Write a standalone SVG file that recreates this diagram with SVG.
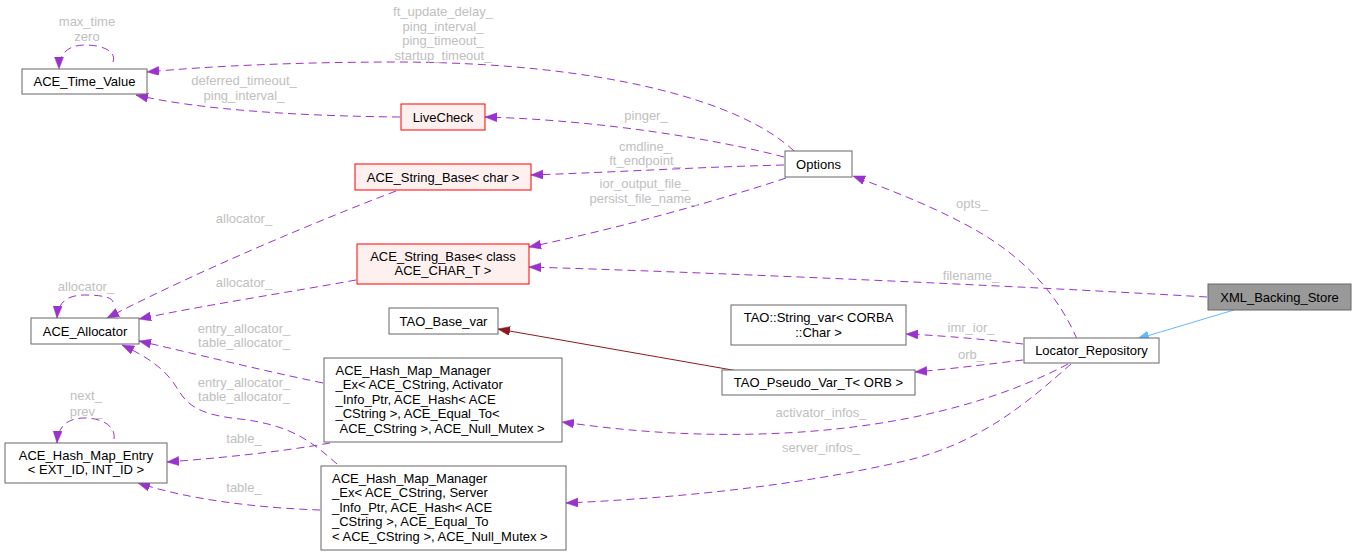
<svg xmlns="http://www.w3.org/2000/svg" width="1355" height="555" viewBox="0 0 1355 555">
<style>
text{font-family:"Liberation Sans",Arial,sans-serif;font-size:13px}
.n rect{fill:#ffffff;stroke:#666666;stroke-width:1}
.n.r rect{fill:#fff0f0;stroke:#ff0000}
.n.root rect{fill:#999999;stroke:#666666}
.n text{fill:#000000}
.c{text-anchor:middle}
.u{fill:none;stroke:#9a32cd;stroke-width:1;stroke-dasharray:8,5;marker-end:url(#ap)}
.lbl{fill:#c0c0c0;text-anchor:middle}
</style>
<defs>
<marker id="ap" markerUnits="userSpaceOnUse" markerWidth="13" markerHeight="10" refX="12" refY="4.5" orient="auto"><path d="M0,0 L12,4.5 L0,9 z" fill="#9a32cd" stroke="#9a32cd" stroke-width="0.5"/></marker>
<marker id="ab" markerUnits="userSpaceOnUse" markerWidth="13" markerHeight="10" refX="12" refY="4.5" orient="auto"><path d="M0,0 L12,4.5 L0,9 z" fill="#63b8ff" stroke="#63b8ff" stroke-width="0.5"/></marker>
<marker id="af" markerUnits="userSpaceOnUse" markerWidth="13" markerHeight="10" refX="12" refY="4.5" orient="auto"><path d="M0,0 L12,4.5 L0,9 z" fill="#8b1a1a" stroke="#8b1a1a" stroke-width="0.5"/></marker>
</defs>
<rect width="1355" height="555" fill="#ffffff"/>

<g id="connectors">
<path class="u" d="M794,151 C740,100 600,63 400,62 C300,62 210,66 147,72"/>
<text class="lbl" x="443" y="16">ft_update_delay_</text>
<text class="lbl" x="443" y="31">ping_interval_</text>
<text class="lbl" x="443" y="45">ping_timeout_</text>
<text class="lbl" x="443" y="60">startup_timeout_</text>

<path class="u" d="M113,62 C117,50 100,45 85,45 C70,45 59,52 59,69"/>
<text class="lbl" x="87" y="26">max_time</text>
<text class="lbl" x="87" y="41">zero</text>

<path class="u" d="M400,117 C300,116 200,110 136,95"/>
<text class="lbl" x="244" y="85">deferred_timeout_</text>
<text class="lbl" x="244" y="100">ping_interval_</text>

<path class="u" d="M784,157 C720,140 600,120 485,117"/>
<text class="lbl" x="646" y="120">pinger_</text>

<path class="u" d="M784,165 C700,167 620,172 531,175"/>
<text class="lbl" x="645" y="151">cmdline_</text>
<text class="lbl" x="645" y="165">ft_endpoint_</text>

<path class="u" d="M786,178 C720,200 620,228 529,247"/>
<text class="lbl" x="644" y="188">ior_output_file_</text>
<text class="lbl" x="644" y="203">persist_file_name_</text>

<path class="u" d="M396,191 C320,220 200,270 107,318"/>
<text class="lbl" x="244" y="223">allocator_</text>

<path class="u" d="M356,280 C290,292 200,306 139,319"/>
<text class="lbl" x="244" y="287">allocator_</text>

<path class="u" d="M113,302 C112,297 100,295 85,295 C70,295 58,300 57,318"/>
<text class="lbl" x="86" y="291">allocator_</text>

<path class="u" d="M323,383 C260,370 200,355 139,341"/>
<text class="lbl" x="244" y="333">entry_allocator_</text>
<text class="lbl" x="244" y="347">table_allocator_</text>

<path class="u" d="M337,464 C310,440 290,425 240,419 C190,414 185,400 175,385 C165,370 150,358 122,345"/>
<text class="lbl" x="244" y="387">entry_allocator_</text>
<text class="lbl" x="244" y="401">table_allocator_</text>

<path class="u" d="M330,443 C280,452 220,458 167,462"/>
<text class="lbl" x="244" y="443">table_</text>

<path class="u" d="M320,510 C260,508 190,500 138,483"/>
<text class="lbl" x="244" y="492">table_</text>

<path class="u" d="M114,439 C116,425 100,418 85,418 C70,418 58,424 57,443"/>
<text class="lbl" x="86" y="400">next_</text>
<text class="lbl" x="86" y="416">prev_</text>

<path fill="none" stroke="#8b1a1a" stroke-width="1" marker-end="url(#af)" d="M738,371 L498,329"/>

<path class="u" d="M1023,344 C990,340 950,336 906,334"/>
<text class="lbl" x="971" y="332">imr_ior_</text>

<path class="u" d="M1023,360 C990,364 950,369 915,372"/>
<text class="lbl" x="971" y="359">orb_</text>

<path class="u" d="M1077,339 C1060,300 1030,260 972,228 C930,205 890,190 853,176"/>
<text class="lbl" x="972" y="208">opts_</text>

<path class="u" d="M1207,297 C1000,285 700,272 529,267"/>
<text class="lbl" x="971" y="280">filename_</text>

<path fill="none" stroke="#63b8ff" stroke-width="1" marker-end="url(#ab)" d="M1234,310 L1137,339"/>

<path class="u" d="M1068,364 C1000,400 900,430 760,434 C680,436 620,430 562,422"/>
<text class="lbl" x="821" y="417">activator_infos_</text>

<path class="u" d="M1071,364 C1030,400 980,445 900,462 C800,485 680,498 566,503"/>
<text class="lbl" x="821" y="452">server_infos_</text>
</g>

<g id="node-xml-backing-store" class="n root"><rect x="1208" y="284" width="143" height="26"/><text class="c" x="1279.5" y="301.5">XML_Backing_Store</text></g>
<g id="node-locator-repository" class="n"><rect x="1024" y="338" width="135" height="25"/><text class="c" x="1091.5" y="355">Locator_Repository</text></g>
<g id="node-options" class="n"><rect x="785" y="151" width="67" height="26"/><text class="c" x="818.5" y="168.5">Options</text></g>
<g id="node-ace-time-value" class="n"><rect x="22" y="69" width="125" height="25"/><text class="c" x="84.5" y="86">ACE_Time_Value</text></g>
<g id="node-livecheck" class="n r"><rect x="401" y="104" width="84" height="26"/><text class="c" x="443" y="121.5">LiveCheck</text></g>
<g id="node-ace-string-base-char" class="n r"><rect x="355" y="164" width="176" height="26"/><text class="c" x="443" y="181.5">ACE_String_Base&lt; char &gt;</text></g>
<g id="node-ace-string-base-class" class="n r"><rect x="357" y="244" width="172" height="40"/><text class="c" x="443" y="260.5">ACE_String_Base&lt; class</text><text class="c" x="443" y="275">ACE_CHAR_T &gt;</text></g>
<g id="node-ace-allocator" class="n"><rect x="31" y="318" width="108" height="26"/><text class="c" x="85" y="335.5">ACE_Allocator</text></g>
<g id="node-tao-base-var" class="n"><rect x="389" y="308" width="109" height="26"/><text class="c" x="443.5" y="325.5">TAO_Base_var</text></g>
<g id="node-tao-string-var" class="n"><rect x="731" y="305" width="175" height="40"/><text class="c" x="818.5" y="321.5">TAO::String_var&lt; CORBA</text><text class="c" x="818.5" y="336.5">::Char &gt;</text></g>
<g id="node-tao-pseudo-var" class="n"><rect x="722" y="370" width="193" height="25"/><text class="c" x="818.5" y="387">TAO_Pseudo_Var_T&lt; ORB &gt;</text></g>
<g id="node-ace-hash-map-entry" class="n"><rect x="5" y="443" width="162" height="40"/><text class="c" x="86" y="459.5">ACE_Hash_Map_Entry</text><text class="c" x="86" y="474">&lt; EXT_ID, INT_ID &gt;</text></g>
<g id="node-hmm-activator" class="n"><rect x="324" y="358" width="238" height="84"/>
<text x="335.5" y="374.5">ACE_Hash_Map_Manager</text>
<text x="335.5" y="389">_Ex&lt; ACE_CString, Activator</text>
<text x="335.5" y="403.5">_Info_Ptr, ACE_Hash&lt; ACE</text>
<text x="335.5" y="418">_CString &gt;, ACE_Equal_To&lt;</text>
<text x="339.5" y="432.5">ACE_CString &gt;, ACE_Null_Mutex &gt;</text></g>
<g id="node-hmm-server" class="n"><rect x="321" y="466" width="245" height="84"/>
<text x="332" y="482.5">ACE_Hash_Map_Manager</text>
<text x="332" y="497">_Ex&lt; ACE_CString, Server</text>
<text x="332" y="511.5">_Info_Ptr, ACE_Hash&lt; ACE</text>
<text x="332" y="526">_CString &gt;, ACE_Equal_To</text>
<text x="332" y="540.5">&lt; ACE_CString &gt;, ACE_Null_Mutex &gt;</text></g>
</svg>
